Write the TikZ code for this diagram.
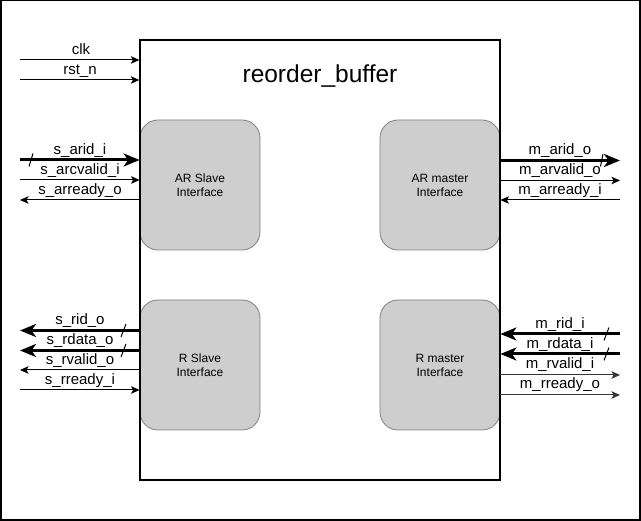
\documentclass[tikz,border=0pt]{standalone}
\usepackage{fontspec}
\setmainfont{Liberation Sans}
\usetikzlibrary{arrows.meta,calc}
\definecolor{boxfill}{RGB}{206,206,206}
\definecolor{boxline}{RGB}{128,128,128}
\definecolor{darkline}{RGB}{55,55,55}
\tikzset{
  sig/.style={font=\fontsize{15}{18}\selectfont, anchor=base, inner sep=0pt},
  ifbox/.style={draw=boxline, fill=boxfill, rounded corners=18pt, minimum width=120pt, minimum height=130pt, align=center, font=\fontsize{12}{14}\selectfont, inner sep=0pt, line width=0.8pt},
  wire/.style={line width=1pt, -{Stealth[length=8.5pt,width=7.5pt,inset=2pt]}},
  bus/.style={line width=3pt, -{Stealth[length=16pt,width=13pt,inset=4.5pt]}},
  slashmark/.style={line width=1pt},
}
\begin{document}
\begin{tikzpicture}[x=1pt,y=-1pt]
\useasboundingbox (0,0) rectangle (641,521);
\draw[line width=1.5pt] (0.75,0.75) rectangle (640,520);

% interface boxes
\node[ifbox] (ars) at (200,185) {AR Slave\\Interface};
\node[ifbox] (arm) at (440,185) {AR master\\Interface};
\node[ifbox] (rs)  at (200,365) {R Slave\\Interface};
\node[ifbox] (rm)  at (440,365) {R master\\Interface};

% main block
\node[draw, line width=1.3pt, minimum width=360pt, minimum height=440pt, inner sep=0pt] (rb) at (320,260) {};
\node[font=\fontsize{24.5}{28}\selectfont, anchor=base] (title) at (320,83) {reorder\_buffer};

% free ends
\coordinate (clk) at (20,60);
\coordinate (rst) at (20,80);
\coordinate (sarid) at (20,160);
\coordinate (sarcv) at (20,180);
\coordinate (sarr) at (20,200);
\coordinate (srid) at (20,330.5);
\coordinate (srdata) at (20,350.5);
\coordinate (srvalid) at (20,370);
\coordinate (srready) at (20,390);
\coordinate (marid) at (620,160.5);
\coordinate (marv) at (620,180.5);
\coordinate (marr) at (620,200);
\coordinate (mrid) at (620,334);
\coordinate (mrdata) at (620,354);
\coordinate (mrvalid) at (620,375);
\coordinate (mrready) at (620,395);

% left side wires
\draw[wire] (clk) -- (clk -| rb.west);
\draw[wire] (rst) -- (rst -| rb.west);
\draw[bus] (sarid) -- (sarid -| ars.west);
\draw[wire] (sarcv) -- (sarcv -| ars.west);
\draw[wire] (sarr -| ars.west) -- (sarr);
\draw[bus] (srid -| rs.west) -- (srid);
\draw[bus] (srdata -| rs.west) -- (srdata);
\draw[wire] (srvalid -| rs.west) -- (srvalid);
\draw[wire] (srready) -- (srready -| rs.west);

% right side wires
\draw[bus] (marid -| arm.east) -- (marid);
\draw[wire] (marv -| arm.east) -- (marv);
\draw[wire] (marr) -- (marr -| arm.east);
\draw[bus] (mrid) -- (mrid -| rm.east);
\draw[bus] (mrdata) -- (mrdata -| rm.east);
\draw[wire, darkline] (mrvalid -| rm.east) -- (mrvalid);
\draw[wire, darkline] (mrready -| rm.east) -- (mrready);

% bus slashes
\draw[slashmark] ($(sarid)+(9,6.5)$) -- ($(sarid)+(13,-6.5)$);
\draw[slashmark] ($(srid)+(101,6.5)$) -- ($(srid)+(106,-6.5)$);
\draw[slashmark] ($(srdata)+(101,6.5)$) -- ($(srdata)+(106,-6.5)$);
\draw[slashmark] ($(marid)+(-19.5,6)$) -- ($(marid)+(-17,-6.5)$);
\draw[slashmark] ($(mrid)+(-16,6.5)$) -- ($(mrid)+(-11,-6.5)$);
\draw[slashmark] ($(mrdata)+(-16,6.5)$) -- ($(mrdata)+(-11,-6.5)$);

% labels
\node[sig] (lclk) at (81,54.5) {clk};
\node[sig] (lrst) at (80,74.5) {rst\_n};
\node[sig] (lsarid) at (80,154.5) {s\_arid\_i};
\node[sig] (lsarcv) at (80,174.5) {s\_arcvalid\_i};
\node[sig] (lsarr) at (80,194.5) {s\_arready\_o};
\node[sig] (lsrid) at (80,324.5) {s\_rid\_o};
\node[sig] (lsrdata) at (80,344.5) {s\_rdata\_o};
\node[sig] (lsrvalid) at (80,364.5) {s\_rvalid\_o};
\node[sig] (lsrready) at (80,384.5) {s\_rready\_i};
\node[sig] (lmarid) at (560,155) {m\_arid\_o};
\node[sig] (lmarv) at (560,175) {m\_arvalid\_o};
\node[sig] (lmarr) at (560,194.5) {m\_arready\_i};
\node[sig] (lmrid) at (560,328.5) {m\_rid\_i};
\node[sig] (lmrdata) at (560,348.5) {m\_rdata\_i};
\node[sig] (lmrvalid) at (560,369) {m\_rvalid\_i};
\node[sig] (lmrready) at (560,389) {m\_rready\_o};
\end{tikzpicture}
\end{document}
